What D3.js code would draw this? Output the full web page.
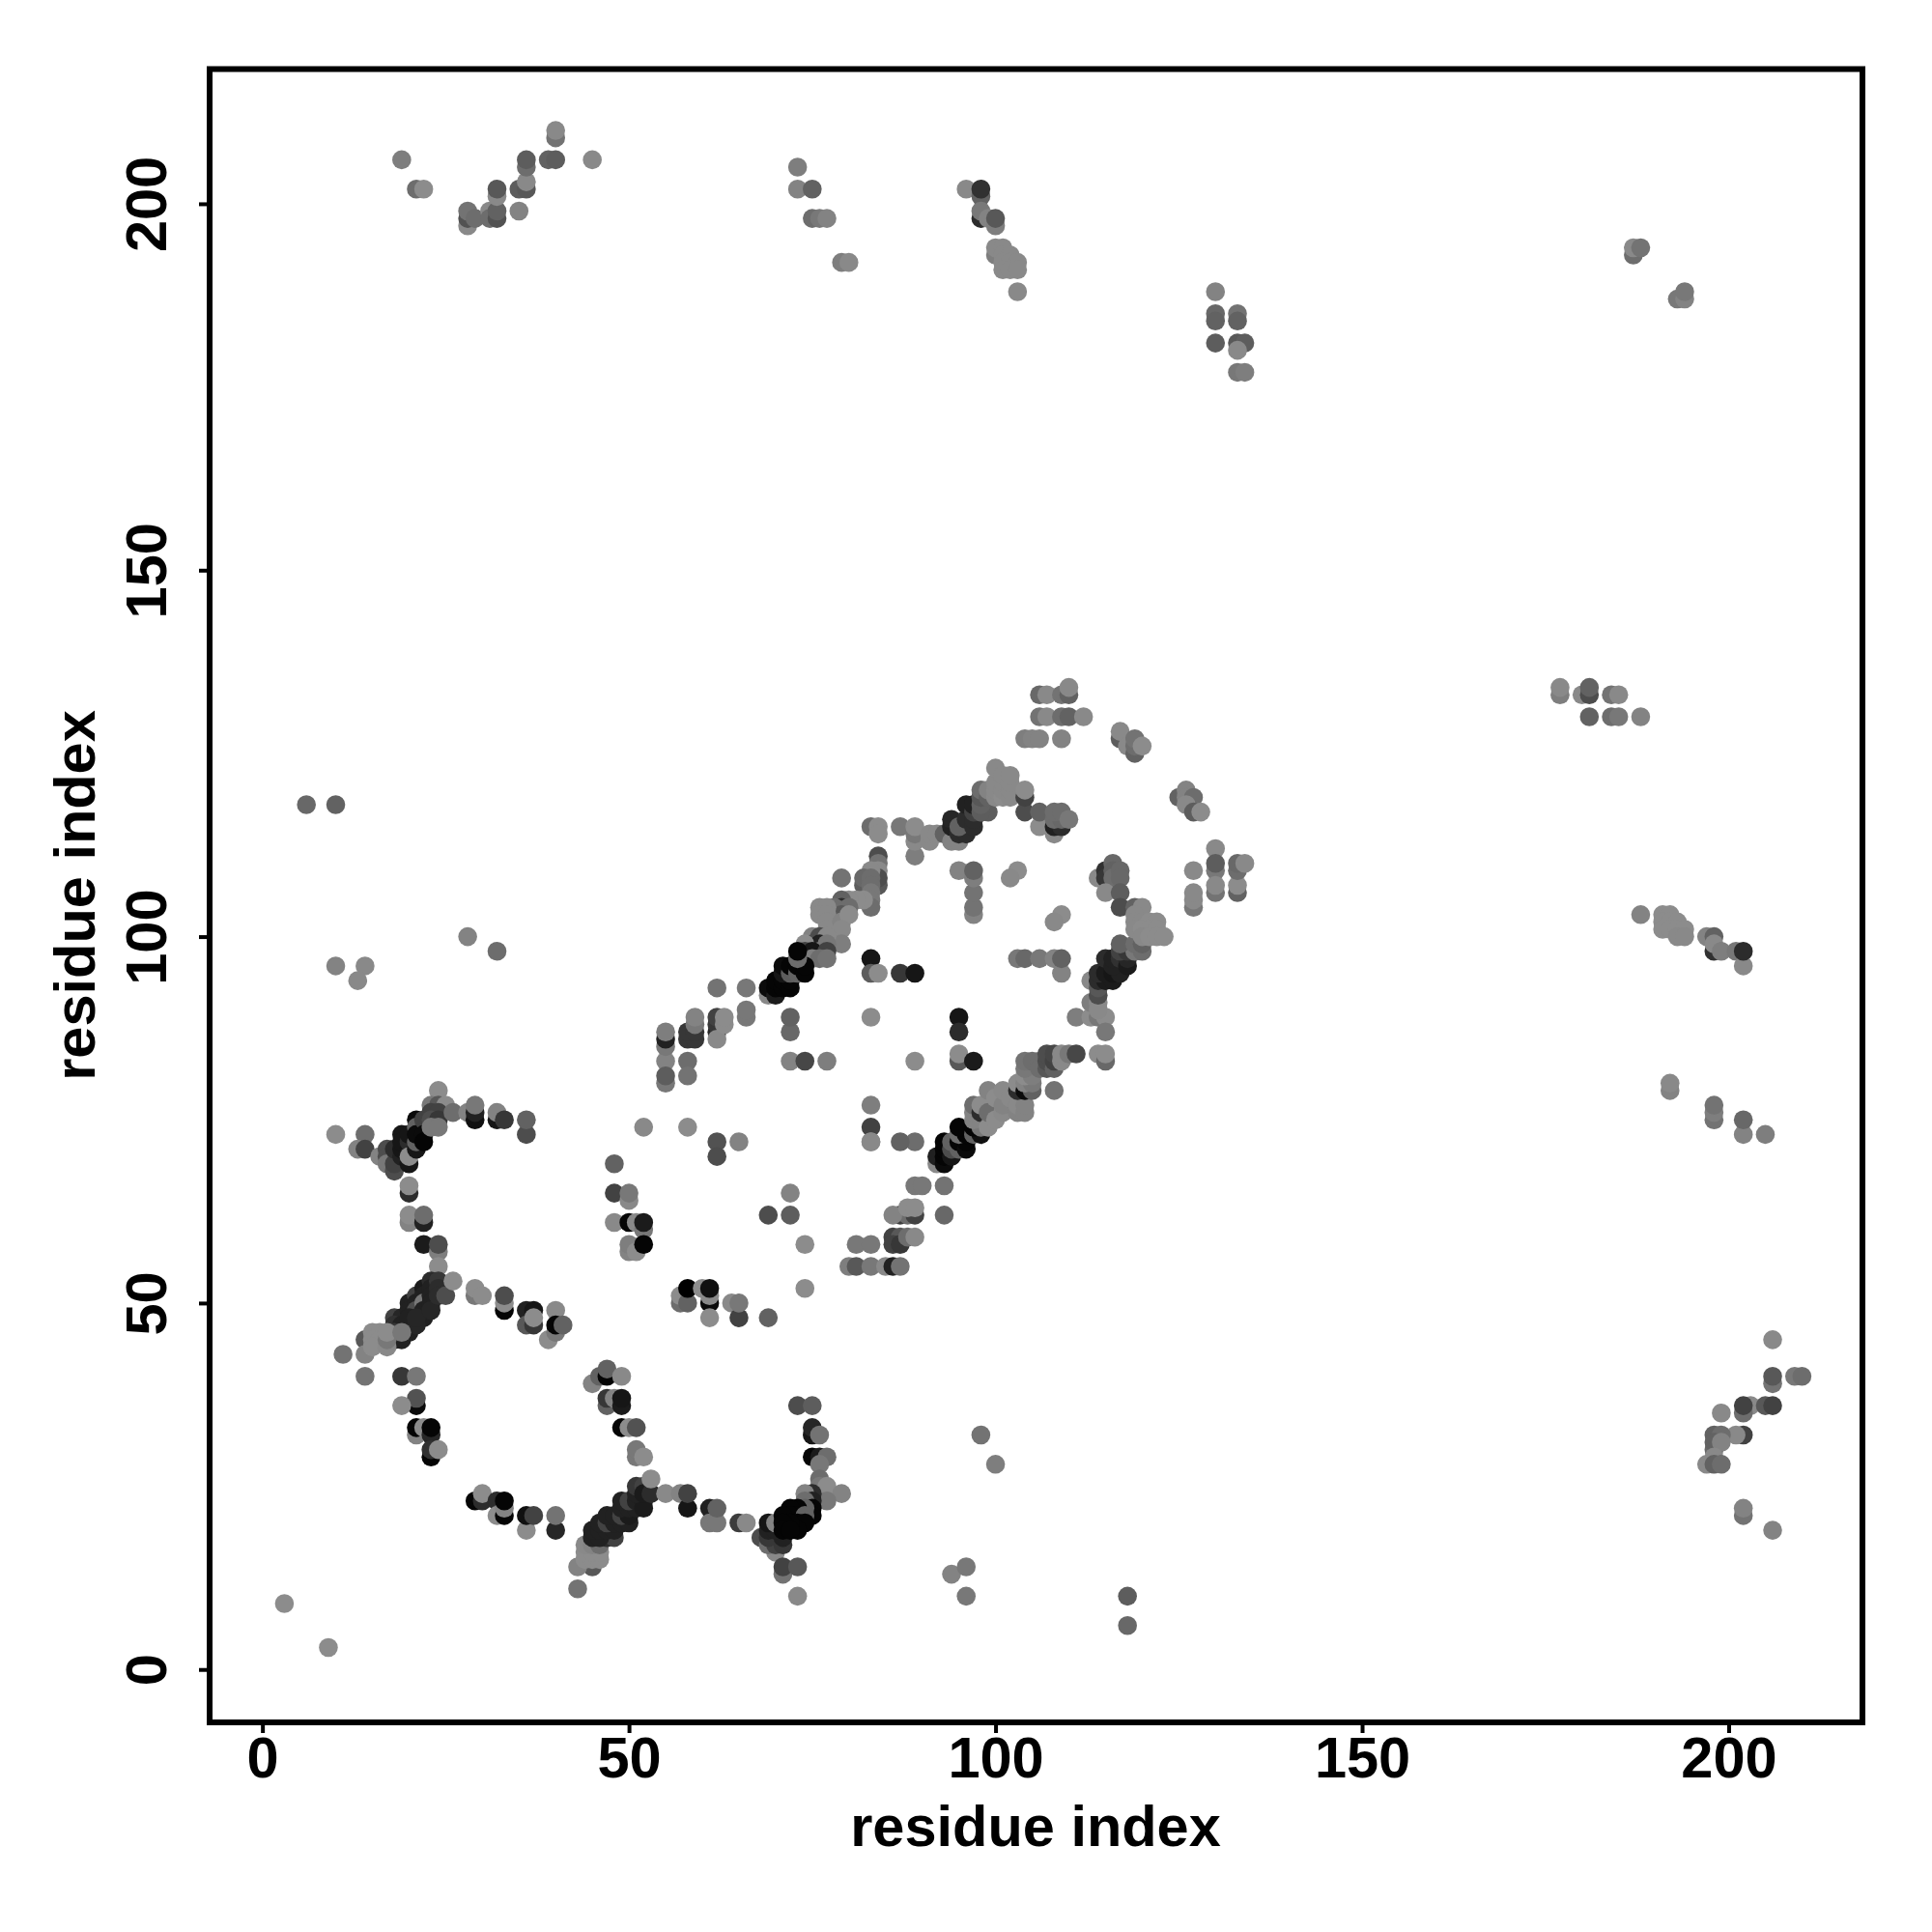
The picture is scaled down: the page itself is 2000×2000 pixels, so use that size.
<!DOCTYPE html>
<html><head><meta charset="utf-8">
<script src="https://cdn.jsdelivr.net/npm/d3@7"></script>
<style>html,body{margin:0;background:#fff}svg{display:block}</style></head>
<body><svg id="c" width="2000" height="2000"></svg>
<script>
// Each triple: residue i, residue j, score (0 = strongest contact, 140 = weakest)
const sheetUpper = [[10,73,130],[14,73,100],[13,71,120],[14,71,60],[16,70,120],[17,71,70],[17,70,70],[17,69,110],[18,68,70],[18,69,60],[18,71,40],[19,70,30],[19,71,20],[19,73,20],[19,72,20],[20,71,20],[20,69,20],[20,72,40],[20,73,20],[20,70,130],[21,71,20],[21,72,90],[21,75,10],[21,74,90],[21,73,10],[22,75,60],[22,73,10],[22,72,5],[24,79,130],[23,77,110],[24,77,80],[25,77,140],[23,76,60],[24,76,60],[23,75,70],[24,75,50],[23,74,110],[24,74,110],[26,76,100],[28,76,120],[29,75,15],[29,76,30],[29,77,110],[32,75,20],[32,76,120],[33,75,50],[36,73,70],[36,75,90]];
const strandLink = [[20,65,40],[20,66,135],[20,61,120],[20,62,130],[22,61,30],[22,62,100],[22,58,25],[24,57,115],[24,58,70],[24,55,130]];
const sheetMiddle = [[18,48,60],[19,48,35],[18,47,45],[19,47,30],[19,45,30],[18,45,30],[18,46,50],[20,46,30],[20,47,30],[20,50,30],[20,49,30],[21,51,60],[21,50,30],[21,49,70],[20,48,30],[22,52,25],[22,51,30],[22,50,110],[22,49,30],[22,48,30],[21,47,35],[21,48,35],[23,53,40],[23,52,30],[23,51,30],[23,50,30],[23,49,35],[24,53,50],[24,52,40],[24,51,40],[25,51,70],[26,53,140],[14,45,80],[15,46,140],[16,46,140],[15,45,140],[16,45,140],[14,43,120],[15,44,130],[17,44,125],[17,45,110],[17,46,130],[19,46,110],[11,43,105],[29,51,110],[29,52,135],[30,51,130],[33,49,5],[33,50,130],[33,51,70],[36,49,30],[36,47,80],[37,47,50],[37,49,20],[37,48,130],[39,45,130],[40,46,110],[40,49,125],[40,47,5],[41,47,90]];
const sheetLower = [[14,40,105],[19,40,50],[21,40,110],[21,36,10],[21,37,75],[19,36,135],[21,32,120],[21,33,5],[22,33,130],[23,32,35],[23,33,5],[23,29,5],[23,30,45],[24,30,135],[29,23,5],[30,23,40],[30,24,130],[32,23,40],[32,21,130],[33,21,5],[33,22,120],[33,23,5],[36,19,135],[36,21,15],[37,21,60],[40,19,35],[40,21,105]];
const hairpinLeft = [[45,39,120],[46,40,90],[47,40,5],[47,41,90],[49,40,125],[47,36,90],[47,37,50],[48,37,120],[49,36,25],[49,37,20],[49,33,5],[50,33,130],[51,33,75],[51,29,110],[51,30,110],[52,29,135],[45,14,80],[43,14,120],[43,11,105],[44,15,130],[45,15,130],[46,15,130],[44,16,135],[45,16,135],[46,16,135],[44,17,125],[45,17,120],[46,17,100],[47,18,40],[48,18,60],[45,18,30],[46,18,30],[45,19,30],[46,19,30],[47,19,30],[48,19,30],[46,20,30],[47,20,60],[48,20,30],[49,20,30],[50,20,30],[47,21,30],[48,21,30],[49,21,60],[50,21,25],[49,22,30],[50,22,30],[51,22,30],[49,23,30],[50,23,60],[51,23,30],[52,23,30],[52,22,25],[51,24,30],[51,25,50],[52,25,60],[52,24,25],[53,24,40],[53,26,135],[55,24,125],[57,24,120],[58,22,20],[58,24,60],[61,22,30],[61,20,110],[62,20,110],[62,22,90],[65,20,55],[66,20,125]];
const hairpinRight = [[73,36,70],[75,36,85],[75,32,20],[75,33,35],[76,32,105],[75,29,5],[76,29,25],[77,29,100],[76,28,110],[76,26,100],[76,24,50],[76,25,110],[77,25,135],[79,24,120],[77,23,110],[75,24,40],[74,24,120],[75,23,30],[74,23,100],[70,16,125],[68,18,70],[69,17,100],[70,17,60],[71,17,50],[69,18,50],[71,18,30],[69,19,30],[70,19,30],[69,20,20],[70,20,120],[75,22,5],[75,21,5],[74,22,90],[73,22,5],[72,22,5],[73,21,5],[72,21,5],[74,21,90],[73,20,5],[74,20,5],[73,19,5],[71,21,5],[72,20,5],[71,20,5],[71,19,5],[72,19,5],[71,13,105],[71,14,60],[73,14,80],[73,10,125]];
const loopContacts = [[48,69,90],[48,65,60],[50,64,125],[50,65,110],[48,61,125],[50,61,5],[51,61,125],[52,60,110],[52,61,25],[50,57,120],[50,58,115],[51,57,130],[52,58,5],[52,74,125],[58,74,130],[62,72,75],[65,72,120],[62,70,70],[72,65,120],[69,62,70],[72,62,85],[74,58,135],[74,52,130],[69,48,90],[57,50,100],[57,51,130],[58,50,90],[58,52,0],[60,52,140],[61,50,10],[61,51,125],[61,52,15],[61,48,130],[64,50,125],[65,48,60],[65,50,110],[55,83,120],[58,83,100],[55,80,110],[55,81,85],[58,81,105],[55,85,110],[55,86,30],[55,87,115],[58,86,50],[59,86,50],[58,87,50],[59,87,50],[59,88,110],[59,89,120],[72,83,120],[74,83,65],[77,83,115],[83,77,115],[83,74,60],[83,72,125]];
const helixFirst = [[62,93,105],[66,93,110],[62,87,35],[62,88,50],[62,86,125],[62,89,60],[63,88,130],[63,89,130],[66,89,110],[66,90,110],[72,87,95],[72,89,90],[83,89,140],[83,97,20],[83,95,85],[84,95,135],[87,95,50],[89,95,20],[79,108,105],[84,111,70],[84,110,105],[84,109,125],[84,107,80],[84,108,70],[83,109,125],[82,107,85],[82,108,95],[83,108,100],[83,107,100],[83,106,110],[83,105,110],[83,104,100],[82,105,130],[81,105,130],[80,105,130],[79,105,90],[79,104,40],[78,104,100],[80,104,100],[79,103,80],[76,104,125],[77,104,125],[76,103,125],[77,103,125],[77,102,125],[77,101,125],[79,102,120],[80,103,130],[79,101,125],[79,99,115],[75,100,120],[76,100,70],[77,100,125],[75,99,70],[76,99,30],[77,99,110],[74,99,130],[74,98,60],[76,98,110],[75,98,20],[77,98,60],[74,97,30],[75,97,115],[76,97,100],[77,97,105],[69,92,125],[69,93,10],[70,92,25],[70,93,5],[70,94,5],[71,93,5],[71,94,5],[72,93,5],[72,94,5],[71,95,20],[71,96,10],[72,95,85],[72,96,5],[73,95,90],[73,96,5],[74,95,5],[74,96,5],[73,97,100],[73,98,5]];
const bridge = [[83,115,100],[84,115,130],[84,114,130],[87,115,110],[89,111,115],[89,113,125],[89,114,110],[89,115,130],[91,113,125],[91,114,125],[92,114,125],[93,114,90],[94,113,120],[95,113,120],[94,115,30],[94,116,35],[95,114,40],[96,114,40],[95,115,90],[96,116,40],[96,118,30],[97,115,40],[97,116,40],[98,117,60],[98,118,60],[99,117,85],[97,117,60],[97,118,30]];
const innerLoops = [[95,89,20],[95,87,40],[95,83,80],[95,84,130],[97,83,25],[89,83,130],[95,109,120],[97,103,120],[97,104,105],[97,106,105],[97,108,115],[97,109,90],[103,109,130],[102,108,125],[109,103,130],[108,102,125],[103,97,110],[104,97,95],[106,97,110],[108,97,120],[109,95,120],[109,97,90]];
const helixSecond = [[89,72,100],[87,72,90],[83,72,125],[89,66,110],[90,66,110],[93,66,105],[93,62,95],[87,62,55],[88,62,100],[89,62,60],[86,62,120],[88,63,130],[89,63,135],[86,59,60],[87,59,80],[86,58,60],[87,58,50],[88,59,100],[89,59,125],[81,58,110],[83,58,110],[80,55,115],[81,55,80],[83,55,110],[85,55,125],[86,55,30],[87,55,105],[92,69,125],[92,70,30],[93,69,10],[93,70,5],[93,71,5],[93,72,5],[94,70,20],[94,71,70],[95,71,90],[94,72,90],[95,72,5],[96,71,10],[96,72,5],[95,73,100],[96,73,5],[95,74,5],[97,73,90],[98,73,15],[97,74,5],[98,74,110],[97,75,120],[97,76,120],[97,77,100],[98,76,40],[98,77,130],[99,74,135],[99,76,100],[99,79,120],[100,75,130],[100,78,130],[101,76,125],[101,77,120],[101,79,125],[102,78,125],[103,76,120],[103,77,125],[104,76,120],[104,77,120],[103,79,40],[103,80,130],[104,79,10],[105,79,90],[104,80,120],[105,80,110],[104,81,130],[105,81,115],[104,82,110],[104,83,105],[105,83,100],[106,83,100],[106,82,100],[107,82,80],[107,83,70],[107,84,70],[108,82,90],[108,83,60],[108,84,65],[109,83,125],[109,84,125],[110,84,110],[111,84,65],[108,79,105],[114,84,130],[115,83,95],[115,84,135]];
const helixSecondTop = [[111,89,115],[113,89,135],[114,89,110],[115,89,135],[115,87,110],[113,91,115],[114,91,125],[114,90,125],[113,94,125],[114,92,70],[114,93,80],[114,94,40],[115,94,25],[114,95,40],[116,94,25],[115,95,25],[116,95,20],[117,95,30],[115,97,40],[116,96,30],[116,97,30],[117,97,45],[118,96,25],[118,97,35],[117,98,60],[118,98,50],[119,98,110],[120,98,100],[117,99,90],[119,99,100],[120,99,90]];
const upperHelixEnd = [[97,118,30],[98,117,85],[98,118,90],[98,119,80],[98,120,100],[99,119,90],[99,120,120],[100,119,125],[100,120,125],[100,121,125],[100,123,125],[101,119,130],[101,120,125],[101,121,125],[101,122,125],[102,119,125],[102,120,125],[102,121,125],[102,122,125],[104,117,70],[104,119,60],[104,120,130],[106,115,130],[106,117,90],[108,114,125],[108,115,30],[109,115,40],[108,116,100],[109,116,95],[108,117,100],[109,117,100],[110,116,110]];
const topStrands = [[106,133,95],[107,133,125],[109,133,105],[110,133,90],[110,134,125],[106,130,105],[107,130,125],[109,130,100],[110,130,90],[112,130,125],[104,127,115],[105,127,120],[106,127,120],[109,127,120],[117,127,85],[117,128,125],[118,126,125],[119,125,90],[119,126,100],[119,127,105],[120,126,135],[125,119,90],[126,120,120],[126,119,120],[127,119,100],[126,118,125],[127,117,85],[128,117,135],[130,112,125],[130,109,110],[130,110,85],[130,106,105],[130,107,125],[127,109,125],[127,104,110],[127,105,125],[127,106,125],[133,106,90],[133,107,130],[133,109,100],[133,110,95],[134,110,125]];
const rightHelix = [[114,108,125],[115,109,45],[115,108,50],[116,110,95],[116,109,90],[116,108,100],[117,109,95],[117,108,95],[115,106,125],[117,106,85],[117,104,70],[119,104,90],[120,104,125],[119,103,125],[119,102,125],[120,102,125],[121,102,130],[122,102,130],[119,101,125],[120,101,130],[121,101,130],[122,101,130],[120,100,125],[121,100,130],[122,100,130],[123,100,135]];
const farTopLeft = [[19,206,115],[21,202,100],[22,202,130],[28,197,125],[28,198,75],[28,199,105],[29,198,100],[31,199,125],[31,198,100],[32,198,75],[32,199,90],[32,201,125],[32,202,80],[35,199,120],[35,202,85],[36,202,80],[36,203,125],[36,205,100],[36,206,85],[39,206,90],[40,206,85],[40,209,105],[40,210,125],[45,206,125]];
const farTopMiddle = [[73,205,115],[73,202,120],[75,202,90],[75,198,100],[76,198,110],[77,198,120],[79,192,115],[80,192,125],[96,202,125],[98,201,90],[98,202,45],[98,198,40],[98,199,110],[99,198,120],[100,197,115],[100,198,80],[100,193,115],[100,194,125],[101,194,125],[101,193,125],[102,193,125],[101,192,125],[102,192,125],[103,192,125],[101,191,125],[102,191,125],[103,191,125],[103,188,125],[130,188,120],[130,185,95],[130,184,90],[130,181,85],[133,185,105],[133,184,90],[133,181,80],[134,181,85],[133,180,125],[133,177,110],[134,177,115]];
const farTopRight = [[187,193,100],[187,194,125],[188,194,105],[193,187,110],[194,187,120],[194,188,110]];
const farRight = [[177,133,115],[177,134,125],[180,133,125],[181,130,90],[181,133,70],[181,134,90],[184,130,100],[184,133,105],[185,130,110],[185,133,125],[188,130,120],[188,103,120],[191,103,130],[192,103,135],[191,102,130],[192,102,130],[193,102,130],[191,101,130],[192,101,130],[193,101,130],[194,101,130],[193,100,125],[194,100,125],[197,100,120],[198,98,45],[198,100,90],[198,99,125],[199,98,115],[201,98,110],[202,96,125],[202,98,40],[192,79,120],[192,80,125],[198,75,105],[198,76,115],[198,77,105],[202,73,120],[202,75,95],[205,73,115]];
const farBottomRight = [[206,45,125],[206,39,105],[206,40,80],[209,40,110],[210,40,100],[203,36,125],[205,36,80],[206,36,60],[202,35,100],[202,36,60],[199,35,125],[202,32,60],[201,32,125],[198,32,90],[199,32,100],[198,30,95],[198,31,90],[199,31,120],[198,29,125],[197,28,125],[198,28,90],[199,28,100],[202,21,105],[202,22,120],[206,19,120]];
const isolated = [[6,118,95],[10,118,90],[10,96,120],[14,96,125],[13,94,125],[28,100,120],[32,98,100],[3,9,130],[9,3,130],[98,32,105],[100,28,115],[94,13,120],[96,14,110],[96,10,110],[118,10,85],[118,6,95]];

const xTicks = [0,50,100,150,200];
const yTicks = [0,50,100,150,200];
const xTitle = "residue index";
const yTitle = "residue index";

const groups = [sheetUpper,strandLink,sheetMiddle,sheetLower,hairpinLeft,hairpinRight,loopContacts,helixFirst,bridge,innerLoops,helixSecond,helixSecondTop,upperHelixEnd,topStrands,rightHelix,farTopLeft,farTopMiddle,farTopRight,farRight,farBottomRight,isolated];
const points = groups.flat();

const box = {l:217,r:1928,t:71.5,b:1783};
const x = d3.scaleLinear().domain([-7.2,218.25]).range([box.l,box.r]);
const y = d3.scaleLinear().domain([-7.22,218.38]).range([box.b,box.t]);
const shade = d3.scaleLinear().domain([0,128]).range(["#000000","#8c8c8c"]).clamp(true);

const svg = d3.select("#c");
const font = "'Liberation Sans',Arial,sans-serif";
const labelSize = 59.5;

svg.append("g").selectAll("circle").data(points).join("circle")
  .attr("cx",d=>x(d[0])).attr("cy",d=>y(d[1])).attr("r",9.8).attr("fill",d=>shade(d[2]));

svg.append("rect").attr("x",box.l).attr("y",box.t).attr("width",box.r-box.l).attr("height",box.b-box.t)
  .attr("fill","none").attr("stroke","#000").attr("stroke-width",6);

const gx = svg.append("g").attr("transform",`translate(0,${box.b})`)
  .call(d3.axisBottom(x).tickValues(xTicks).tickSize(11).tickPadding(0).tickFormat(d3.format("d")));
const gy = svg.append("g").attr("transform",`translate(${box.l},0)`)
  .call(d3.axisLeft(y).tickValues(yTicks).tickSize(11).tickPadding(0).tickFormat(d3.format("d")));
gx.select(".domain").remove(); gy.select(".domain").remove();
svg.selectAll(".tick line").attr("stroke","#000").attr("stroke-width",4);
gx.selectAll("text").attr("dy",null).attr("y",57).attr("font-family",font).attr("font-weight",700).attr("font-size",labelSize).attr("fill","#000").attr("text-anchor","middle");
gy.selectAll("text").attr("dy",null).attr("x",null).attr("y",null).attr("text-anchor","middle")
  .attr("transform","translate(-45,0) rotate(-90)").attr("font-family",font).attr("font-weight",700).attr("font-size",labelSize).attr("fill","#000");

svg.append("text").attr("x",1072).attr("y",1911).attr("text-anchor","middle").attr("font-family",font).attr("font-weight",700).attr("font-size",labelSize).text(xTitle);
svg.append("text").attr("transform","translate(98,927) rotate(-90)").attr("text-anchor","middle").attr("font-family",font).attr("font-weight",700).attr("font-size",labelSize).text(yTitle);
</script></body></html>
